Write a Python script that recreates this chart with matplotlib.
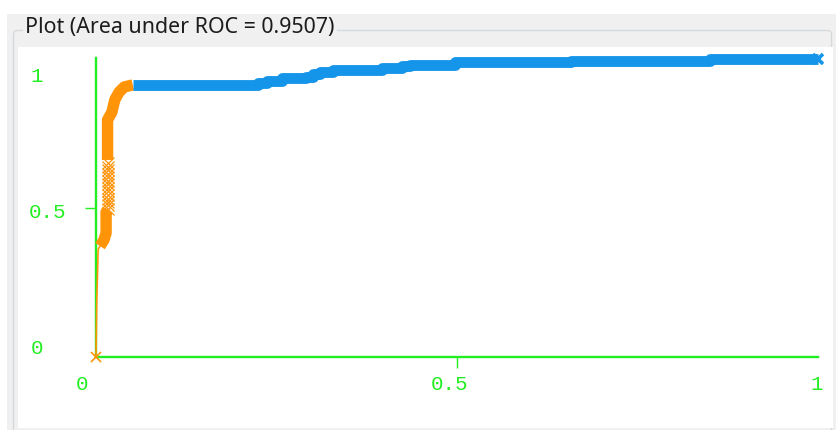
import matplotlib
matplotlib.use("Agg")
import matplotlib.pyplot as plt
from matplotlib.patches import Rectangle, FancyBboxPatch

# ROC curve points (false positive rate, true positive rate)
start_fpr = [0.0, 0.001, 0.003]
start_tpr = [0.0, 0.18, 0.36]

low_fpr = [0.0055, 0.011, 0.014, 0.014, 0.016]
low_tpr = [0.371, 0.391, 0.415, 0.485, 0.492]

sparse_fpr = [0.016] * 14
sparse_tpr = [0.495, 0.507, 0.519, 0.530, 0.542, 0.554, 0.566,
              0.577, 0.589, 0.601, 0.613, 0.624, 0.636, 0.648]

mid_fpr = [0.016, 0.016, 0.022, 0.026, 0.032, 0.039, 0.051]
mid_tpr = [0.659, 0.793, 0.819, 0.860, 0.886, 0.903, 0.910]

high_fpr = [0.051, 0.224, 0.237, 0.258, 0.291, 0.301, 0.310, 0.328,
            0.396, 0.424, 0.435, 0.497, 0.658, 0.850, 1.0]
high_tpr = [0.910, 0.916, 0.923, 0.932, 0.938, 0.946, 0.953, 0.960,
            0.967, 0.973, 0.978, 0.985, 0.991, 0.995, 0.995]

auc = 0.9507
tick_text = ["0", "0.5", "1"]

ORANGE = "#ff9408"
BLUE = "#1495e9"
GREEN = "#22ee22"

W, H = 836, 430
fig = plt.figure(figsize=(W / 100, H / 100), dpi=100, facecolor="white")

# panel background drawn in pixel coordinates
bg = fig.add_axes([0, 0, 1, 1])
bg.set_xlim(0, W)
bg.set_ylim(H, 0)
bg.axis("off")
bg.add_patch(Rectangle((7, 14), W - 7, H - 14, color="#f0f0f0", lw=0))
bg.add_patch(FancyBboxPatch((13.5, 30.5), 818, 410, boxstyle="round,pad=0,rounding_size=4",
                            fill=False, ec="#d6d9dc", lw=1))
bg.add_patch(Rectangle((18, 47), 815, 381, color="white", lw=0))
bg.text(25, 33, f"Plot (Area under ROC = {auc})", family="Noto Sans", fontsize=15.4,
        color="#1c1c1c", ha="left", va="baseline",
        bbox=dict(boxstyle="square,pad=0.1", fc="#f0f0f0", ec="none"))

mono = dict(family="Liberation Mono", fontsize=15, color=GREEN, ha="center", va="center")
for s, x in zip(tick_text, [82, 450, 817]):
    bg.text(x, 385, s, **mono)
for s, x, y in zip(tick_text, [37, 48, 37], [349, 213, 76]):
    bg.text(x, y, s, **mono)

ax = fig.add_axes([96 / W, 73 / H, 722 / W, 299 / H])
ax.patch.set_alpha(0)
ax.set_xlim(0, 1)
ax.set_ylim(0, 1)
for side in ("top", "right"):
    ax.spines[side].set_visible(False)
for side in ("left", "bottom"):
    ax.spines[side].set_color(GREEN)
    ax.spines[side].set_linewidth(1.7)
ax.set_xticks([0.5])
ax.set_yticks([0.5])
ax.tick_params(length=8, width=1, color=GREEN, labelbottom=False, labelleft=False)

# thin connecting line and start marker
ax.plot(start_fpr + low_fpr, start_tpr + low_tpr, color=ORANGE, lw=1.2, clip_on=False, zorder=3)
ax.plot(start_fpr[:1], start_tpr[:1], "x", color=ORANGE, ms=7, mew=1.2, clip_on=False, zorder=3)

# densely packed threshold points
ax.plot(low_fpr, low_tpr, color=ORANGE, lw=8.2, solid_capstyle="butt", zorder=4, clip_on=False)
ax.plot(sparse_fpr, sparse_tpr, "x", color=ORANGE, ms=8.2, mew=0.9, zorder=4, clip_on=False)
ax.plot(mid_fpr, mid_tpr, color=ORANGE, lw=8.2, solid_capstyle="butt",
        solid_joinstyle="round", zorder=4, clip_on=False)
ax.plot(high_fpr, high_tpr, color=BLUE, lw=7.8, drawstyle="steps-post",
        solid_capstyle="butt", zorder=5, clip_on=False)
ax.plot(high_fpr[-1:], high_tpr[-1:], "x", color=BLUE, ms=7.8, mew=2.6, zorder=5, clip_on=False)

fig.savefig("out.png", dpi=100, facecolor="white")
